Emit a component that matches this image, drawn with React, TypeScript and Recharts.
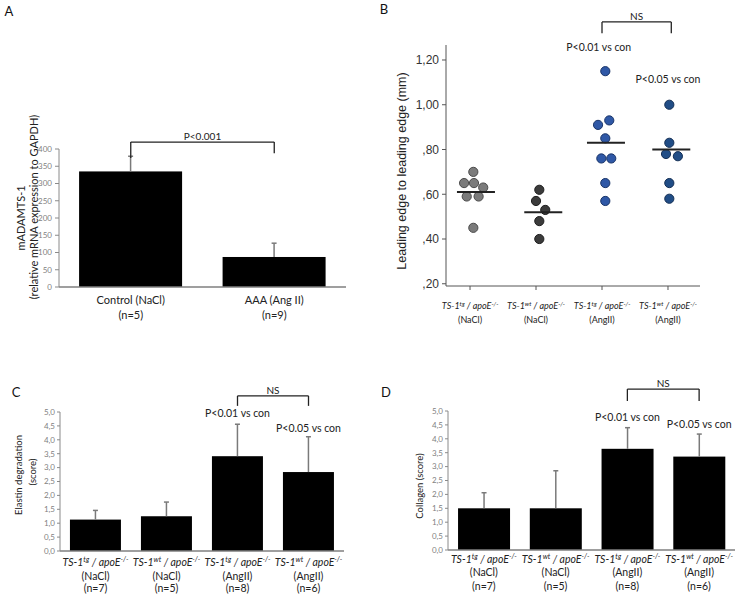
import React from "react";
import {
  BarChart,
  Bar,
  XAxis,
  YAxis,
  ScatterChart,
  Scatter,
  ReferenceLine,
  ReferenceDot,
} from "recharts";

// ---- panel A: mADAMTS-1 expression
const aGroups = ["Control (NaCl)", "AAA (Ang II)"];
const aN = ["(n=5)", "(n=9)"];
const aMeans = [335, 87];
const aSd = [44, 40];
const aTicks = [0, 50, 100, 150, 200, 250, 300, 350, 400];

// ---- panel B: leading edge distance, individual animals
const bGenotype = ["tg", "wt", "tg", "wt"];
const bTreatment = ["(NaCl)", "(NaCl)", "(AngII)", "(AngII)"];
const bValues = [
  [0.7, 0.65, 0.65, 0.63, 0.59, 0.59, 0.45],
  [0.62, 0.57, 0.53, 0.48, 0.4],
  [1.15, 0.91, 0.93, 0.85, 0.76, 0.76, 0.65, 0.57],
  [1.0, 0.83, 0.78, 0.77, 0.65, 0.58],
];
// horizontal scatter of the dots around each group
const bJitter = [
  [0.05, -0.09, 0.06, 0.2, -0.05, 0.13, 0.05],
  [0.05, 0, 0.14, 0.05, 0.05],
  [0.05, -0.06, 0.11, 0.05, -0.01, 0.14, 0.05, 0.05],
  [0.02, 0.02, -0.03, 0.15, 0.02, 0.02],
];
const bMeans = [0.61, 0.52, 0.83, 0.8];
const bMeanJitter = [0.09, 0.11, 0.06, 0.05];
const bTicks = [0.2, 0.4, 0.6, 0.8, 1.0, 1.2];

// ---- panels C & D: histology scores
const cdGenotype = ["tg", "wt", "tg", "wt"];
const cdTreatment = ["(NaCl)", "(NaCl)", "(AngII)", "(AngII)"];
const cdN = ["(n=7)", "(n=5)", "(n=8)", "(n=6)"];
const cMeans = [1.13, 1.25, 3.41, 2.84];
const cSd = [0.33, 0.51, 1.15, 1.27];
const dMeans = [1.5, 1.5, 3.64, 3.36];
const dSd = [0.56, 1.35, 0.76, 0.81];
const scoreTicks = [0, 0.5, 1, 1.5, 2, 2.5, 3, 3.5, 4, 4.5, 5];

const FONT = "Lato, 'Open Sans', sans-serif";
const ARIAL = "'Liberation Sans', Arial, sans-serif";
const AXIS_GREY = "#8a8a8a";
const dotColors = [
  { fill: "#7b7b7b", stroke: "#4a4a4a" },
  { fill: "#3b3b3b", stroke: "#1e1e1e" },
  { fill: "#2f58a6", stroke: "#1a3569" },
  { fill: "#214d86", stroke: "#142f55" },
];

const aData = aGroups.map((name, i) => ({ name, mean: aMeans[i], sd: aSd[i] }));
const cdNames = cdGenotype.map((g, i) => `${g} ${cdTreatment[i]}`);
const cData = cdNames.map((name, i) => ({ name, mean: cMeans[i], sd: cSd[i] }));
const dData = cdNames.map((name, i) => ({ name, mean: dMeans[i], sd: dSd[i] }));
const bSeries = bValues.map((vals, g) =>
  vals.map((v, k) => ({ x: g + bJitter[g][k], y: v }))
);
const bMeanData = bMeans.map((m, i) => ({ x: i + bMeanJitter[i], y: m }));

const commaFmt = (d: number) => (v: number) => v.toFixed(d).replace(".", ",");

// black bar with an upward SD whisker, sized from the bar's own scale
function ErrBarShape(props: any) {
  const { x, y, width, height, payload } = props;
  const perUnit = height / payload.mean;
  const top = y - payload.sd * perUnit;
  const cx = x + width / 2;
  return (
    <g>
      <rect x={x} y={y} width={width} height={height} fill="#000" />
      <line x1={cx} x2={cx} y1={y} y2={top} stroke="#7a7a7a" strokeWidth={1.5} />
      <line x1={cx - 2.5} x2={cx + 2.5} y1={top} y2={top} stroke="#7a7a7a" strokeWidth={1.5} />
    </g>
  );
}

function bracket(key: string, x1: any, x2: any, yTop: number, yL: number, yR: number, text: string, offset = 3) {
  const s = { stroke: "#222", strokeWidth: 1.3 };
  return [
    <ReferenceLine key={key + "l"} segment={[{ x: x1, y: yL }, { x: x1, y: yTop }]} ifOverflow="visible" {...s} />,
    <ReferenceLine
      key={key + "t"}
      segment={[{ x: x1, y: yTop }, { x: x2, y: yTop }]}
      ifOverflow="visible"
      {...s}
      label={{ value: text, position: "top", offset, fontSize: 10, fill: "#222", fontFamily: FONT }}
    />,
    <ReferenceLine key={key + "r"} segment={[{ x: x2, y: yTop }, { x: x2, y: yR }]} ifOverflow="visible" {...s} />,
  ];
}

function note(key: string, x: any, y: number, text: string, fs = 10.5) {
  return (
    <ReferenceDot
      key={key}
      x={x}
      y={y}
      r={0}
      ifOverflow="visible"
      label={{ value: text, position: "center", fontSize: fs, fill: "#222", fontFamily: FONT }}
    />
  );
}

function makeGroupTick(fs: number, dys: number[], withN: boolean, idx: (v: any) => number) {
  return (props: any) => {
    const { x, y, payload } = props;
    const i = idx(payload.value);
    const sup = fs * 0.38;
    const common = { textAnchor: "middle" as const, fontSize: fs, fill: "#222", fontFamily: FONT };
    return (
      <g>
        <text x={x} y={y + dys[0]} {...common} fontStyle="italic">
          <tspan>TS-1</tspan>
          <tspan fontSize={fs * 0.68} dy={-sup}>{cdGenotype[i] ?? bGenotype[i]}</tspan>
          <tspan dy={sup}>{" / apoE"}</tspan>
          <tspan fontSize={fs * 0.68} dy={-sup}>{"-/-"}</tspan>
        </text>
        <text x={x} y={y + dys[1]} {...common}>{cdTreatment[i]}</text>
        {withN && <text x={x} y={y + dys[2]} {...common}>{cdN[i]}</text>}
      </g>
    );
  };
}

const ATick = (props: any) => {
  const { x, y, payload } = props;
  const i = aGroups.indexOf(payload.value);
  return (
    <g fontFamily={FONT} fontSize={11} fill="#222" textAnchor="middle">
      <text x={x} y={y + 17}>{aGroups[i]}</text>
      <text x={x} y={y + 32}>{aN[i]}</text>
    </g>
  );
};

function VLabel({ x, y, text, size, family = FONT, color = "#222" }: any) {
  return (
    <div
      style={{
        position: "absolute",
        left: x,
        top: y,
        transform: "translate(-50%, -50%) rotate(-90deg)",
        whiteSpace: "nowrap",
        fontSize: size,
        fontFamily: family,
        color,
        lineHeight: 1,
      }}
    >
      {text}
    </div>
  );
}

function Letter({ x, y, text }: any) {
  return (
    <div
      style={{
        position: "absolute",
        left: x,
        top: y,
        transform: "translate(-50%, -50%)",
        fontSize: 13,
        fontFamily: FONT,
        color: "#111",
        lineHeight: 1,
      }}
    >
      {text}
    </div>
  );
}

const scoreYAxis = (width: number) => (
  <YAxis
    width={width}
    domain={[0, 5]}
    ticks={scoreTicks}
    interval={0}
    tickFormatter={commaFmt(1)}
    tickSize={3}
    tickMargin={2}
    axisLine={{ stroke: AXIS_GREY }}
    tickLine={{ stroke: AXIS_GREY }}
    tick={{ fontSize: 8, fill: "#7f7f7f", fontFamily: FONT }}
  />
);

export default function App() {
  const cdIdx = (v: any) => cdNames.indexOf(v);
  return (
    <div style={{ position: "absolute", left: 0, top: 0, width: 743, height: 598, background: "#fff", overflow: "hidden" }}>
      <Letter x={9} y={11} text="A" />
      <Letter x={384} y={9} text="B" />
      <Letter x={16} y={392} text="C" />
      <Letter x={386} y={392} text="D" />

      {/* A */}
      <div style={{ position: "absolute", left: 0, top: 0 }}>
        <BarChart width={370} height={330} data={aData} margin={{ top: 149, right: 24, bottom: 3, left: 0 }} barCategoryGap="14%">
          <XAxis
            dataKey="name"
            height={40}
            interval={0}
            tickSize={0}
            tickMargin={0}
            tickLine={false}
            axisLine={{ stroke: "#7f7f7f", strokeWidth: 1.5 }}
            tick={<ATick />}
          />
          <YAxis
            width={59}
            domain={[0, 400]}
            ticks={aTicks}
            interval={0}
            tickSize={4}
            tickMargin={3}
            axisLine={{ stroke: AXIS_GREY }}
            tickLine={{ stroke: AXIS_GREY }}
            tick={{ fontSize: 8, fill: "#7f7f7f", fontFamily: FONT }}
          />
          <Bar dataKey="mean" shape={<ErrBarShape />} isAnimationActive={false} />
          {bracket("a", aGroups[0], aGroups[1], 420, 374, 388, "P<0.001", 2)}
        </BarChart>
      </div>
      <VLabel x={20} y={218} text="mADAMTS-1" size={11} />
      <VLabel x={33} y={207} text="(relative mRNA expression to GAPDH)" size={11} />

      {/* B */}
      <div style={{ position: "absolute", left: 370, top: 0 }}>
        <ScatterChart width={373} height={330} margin={{ top: 45, right: 43, bottom: 4, left: 0 }}>
          <XAxis
            type="number"
            dataKey="x"
            domain={[-0.364, 3.485]}
            allowDataOverflow
            ticks={[0, 1, 2, 3]}
            interval={0}
            height={40}
            tickSize={4}
            tickMargin={2}
            axisLine={{ stroke: "#555" }}
            tickLine={{ stroke: "#555" }}
            tick={makeGroupTick(9, [17, 31], false, (v) => Math.round(v))}
          />
          <YAxis
            type="number"
            dataKey="y"
            width={76}
            domain={[0.19, 1.267]}
            allowDataOverflow
            ticks={bTicks}
            interval={0}
            tickFormatter={(v: number) => commaFmt(2)(v).replace(/^0/, "")}
            tickSize={4}
            tickMargin={3}
            axisLine={{ stroke: "#555" }}
            tickLine={{ stroke: "#555" }}
            tick={{ fontSize: 12, fill: "#333", fontFamily: ARIAL }}
          />
          {bSeries.map((data, g) => (
            <Scatter
              key={g}
              data={data}
              isAnimationActive={false}
              shape={(p: any) => (
                <circle cx={p.cx} cy={p.cy} r={4.6} fill={dotColors[g].fill} stroke={dotColors[g].stroke} strokeWidth={1} />
              )}
            />
          ))}
          <Scatter
            data={bMeanData}
            isAnimationActive={false}
            shape={(p: any) => (
              <line x1={p.cx - 19} x2={p.cx + 19} y1={p.cy} y2={p.cy} stroke="#222" strokeWidth={2} />
            )}
          />
          {bracket("b", 2, 3.05, 1.37, 1.32, 1.32, "NS", 2)}
          {note("b1", 1.95, 1.258, "P<0.01 vs con")}
          {note("b2", 3, 1.115, "P<0.05 vs con")}
        </ScatterChart>
      </div>
      <VLabel x={402} y={171} text="Leading edge to leading edge (mm)" size={12.5} family={ARIAL} />

      {/* C */}
      <div style={{ position: "absolute", left: 0, top: 360 }}>
        <BarChart width={370} height={238} data={cData} margin={{ top: 52, right: 26, bottom: 0, left: 0 }} barCategoryGap="14%">
          <XAxis
            dataKey="name"
            height={47}
            interval={0}
            tickSize={0}
            tickMargin={0}
            tickLine={false}
            axisLine={{ stroke: "#7f7f7f", strokeWidth: 1.5 }}
            tick={makeGroupTick(10.5, [15, 29, 41], true, cdIdx)}
          />
          {scoreYAxis(60)}
          <Bar dataKey="mean" shape={<ErrBarShape />} isAnimationActive={false} />
          {bracket("c", cdNames[2], cdNames[3], 5.58, 5.22, 5.22, "NS", 2)}
          {note("c1", cdNames[2], 4.96, "P<0.01 vs con")}
          {note("c2", cdNames[3], 4.42, "P<0.05 vs con")}
        </BarChart>
      </div>
      <VLabel x={19} y={475} text="Elastin degradation" size={9.5} />
      <VLabel x={33} y={472} text="(score)" size={9.5} />

      {/* D */}
      <div style={{ position: "absolute", left: 370, top: 360 }}>
        <BarChart width={373} height={238} data={dData} margin={{ top: 51, right: 8, bottom: 0, left: 0 }} barCategoryGap="14%">
          <XAxis
            dataKey="name"
            height={48}
            interval={0}
            tickSize={0}
            tickMargin={0}
            tickLine={false}
            axisLine={{ stroke: "#7f7f7f", strokeWidth: 1.5 }}
            tick={makeGroupTick(10.5, [12.5, 26, 39.5], true, cdIdx)}
          />
          {scoreYAxis(78)}
          <Bar dataKey="mean" shape={<ErrBarShape />} isAnimationActive={false} />
          {bracket("d", cdNames[2], cdNames[3], 5.79, 5.36, 5.36, "NS", 2)}
          {note("d1", cdNames[2], 4.78, "P<0.01 vs con")}
          {note("d2", cdNames[3], 4.52, "P<0.05 vs con")}
        </BarChart>
      </div>
      <VLabel x={420} y={486} text="Collagen (score)" size={9.5} />
    </div>
  );
}
